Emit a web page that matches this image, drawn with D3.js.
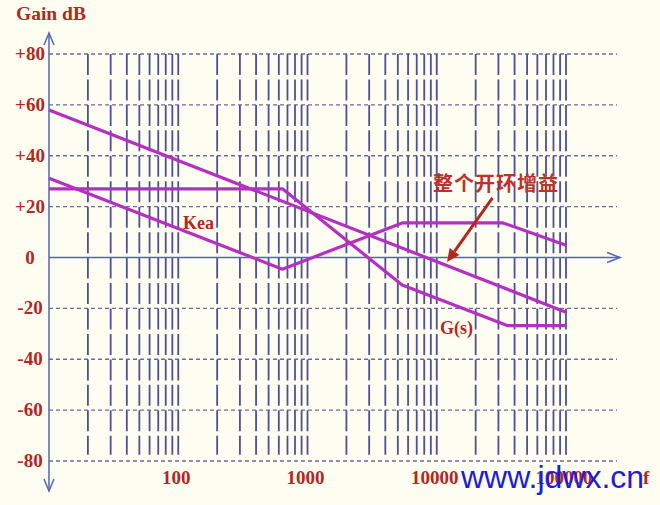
<!DOCTYPE html>
<html>
<head>
<meta charset="utf-8">
<script src="https://cdn.jsdelivr.net/npm/d3@7"></script>
<style>
  html, body { margin: 0; padding: 0; background: #fdfdf2; }
  svg { display: block; }
</style>
</head>
<body>
<svg id="chart" width="660" height="505"></svg>
<script>
// ---- data ----
const yTickValues = [80, 60, 40, 20, 0, -20, -40, -60, -80];
const yTickLabels = ["+80", "+60", "+40", "+20", "0", "-20", "-40", "-60", "-80"];
const xTickValues = [100, 1000, 10000, 100000];
const xTickLabels = ["100", "1000", "10000", "100000"];
const decades = [10, 100, 1000, 10000];
const gridMultipliers = [2, 3, 4, 5, 6, 7, 8, 9, 10];

const freqTotal = [10, 100000];
const gainTotal = [58, -21.5];
const freqG = [10, 640, 5400, 35500, 100000];
const gainG = [27, 27, -10.8, -26.8, -26.8];
const freqKea = [10, 640, 5400, 32600, 100000];
const gainKea = [31.2, -4.6, 13.6, 13.6, 4.8];

const arrowFrom = [27000, 23.4];
const arrowTo = [12000, -1.8];

// ---- setup ----
const svg = d3.select("#chart");
const x = d3.scaleLog().domain([10, 100000]).range([49, 566]);
const y = d3.scaleLinear().domain([-80, 80]).range([461, 54]);

const gridBlue = "#4f4f98";
const axisBlue = "#5566b4";
const labelRed = "#b3271f";
const curveCol = "#b52fc2";

svg.append("rect").attr("width", 660).attr("height", 505).attr("fill", "#fdfdf2");

// horizontal dashed grid
const hVals = yTickValues.filter(v => v !== 0);
svg.append("g").selectAll("line").data(hVals).join("line")
  .attr("x1", x(10)).attr("x2", 617)
  .attr("y1", d => y(d)).attr("y2", d => y(d))
  .attr("stroke", "#6a6aa0").attr("stroke-width", 1.3)
  .attr("stroke-dasharray", "4,3");

// vertical dashed grid
const vVals = [];
decades.forEach(dc => gridMultipliers.forEach(k => vVals.push(dc * k)));
svg.append("g").selectAll("line").data(vVals).join("line")
  .attr("x1", d => x(d)).attr("x2", d => x(d))
  .attr("y1", y(80)).attr("y2", y(-77.5))
  .attr("stroke", gridBlue).attr("stroke-width", 1.8)
  .attr("stroke-dasharray", "21,4.45");

// axes
const ax = svg.append("g").attr("stroke", axisBlue).attr("stroke-width", 1.5).attr("fill", "none");
ax.append("line").attr("x1", x(10)).attr("x2", 620).attr("y1", y(0)).attr("y2", y(0));
ax.append("path").attr("d", `M${607},${y(0)-5}L${620},${y(0)}L${607},${y(0)+5}`);
ax.append("line").attr("x1", x(10)).attr("x2", x(10)).attr("y1", 33).attr("y2", 491);
ax.append("path").attr("d", `M${x(10)-5},${45}L${x(10)},${33}L${x(10)+5},${45}`);
ax.append("path").attr("d", `M${x(10)-5},${479}L${x(10)},${491}L${x(10)+5},${479}`);

// curves
const line = d3.line().x(d => x(d[0])).y(d => y(d[1]));
const series = [
  d3.zip(freqTotal, gainTotal),
  d3.zip(freqG, gainG),
  d3.zip(freqKea, gainKea)
];
svg.append("g").selectAll("path").data(series).join("path")
  .attr("d", line)
  .attr("fill", "none")
  .attr("stroke", curveCol)
  .attr("stroke-width", 3.2)
  .attr("stroke-linejoin", "round");

// y labels
const serif = "'Liberation Serif', 'Times New Roman', serif";
svg.append("g").selectAll("text").data(yTickValues).join("text")
  .attr("x", 30).attr("y", d => y(d) + 6)
  .attr("text-anchor", "middle")
  .attr("font-family", serif).attr("font-weight", "bold").attr("font-size", 19)
  .attr("fill", labelRed)
  .text((d, i) => yTickLabels[i]);

// x labels
svg.append("g").selectAll("text").data(xTickValues).join("text")
  .attr("x", d => x(d) - 2).attr("y", 484)
  .attr("text-anchor", "middle")
  .attr("font-family", serif).attr("font-weight", "bold").attr("font-size", 19)
  .attr("fill", labelRed)
  .text((d, i) => xTickLabels[i]);

svg.append("text").attr("x", 643).attr("y", 484)
  .attr("font-family", serif).attr("font-weight", "bold").attr("font-size", 19)
  .attr("fill", labelRed).text("f");

// title
svg.append("text").attr("x", 16).attr("y", 20)
  .attr("font-family", serif).attr("font-weight", "bold").attr("font-size", 19.5)
  .attr("fill", labelRed).text("Gain dB");

// curve labels
svg.append("text").attr("x", 183).attr("y", 229)
  .attr("font-family", serif).attr("font-weight", "bold").attr("font-size", 18)
  .attr("fill", labelRed).text("Kea");
svg.append("text").attr("x", 440).attr("y", 334)
  .attr("font-family", serif).attr("font-weight", "bold").attr("font-size", 18)
  .attr("fill", labelRed).text("G(s)");
svg.append("text").attr("x", 433).attr("y", 191)
  .attr("font-family", "'Noto Sans CJK SC', sans-serif").attr("font-weight", "bold").attr("font-size", 20)
  .attr("letter-spacing", 1)
  .attr("fill", "#c0302a").text("整个开环增益");

// annotation arrow
const ax1 = x(arrowFrom[0]), ay1 = y(arrowFrom[1]);
const ax2 = x(arrowTo[0]), ay2 = y(arrowTo[1]);
const ang = Math.atan2(ay2 - ay1, ax2 - ax1);
const hl = 13, hw = 6;
const bx = ax2 - hl * Math.cos(ang), by = ay2 - hl * Math.sin(ang);
svg.append("line").attr("x1", ax1).attr("y1", ay1).attr("x2", bx).attr("y2", by)
  .attr("stroke", labelRed).attr("stroke-width", 3);
svg.append("path")
  .attr("d", `M${ax2},${ay2}L${bx + hw * Math.sin(ang)},${by - hw * Math.cos(ang)}L${bx - hw * Math.sin(ang)},${by + hw * Math.cos(ang)}Z`)
  .attr("fill", labelRed);

// watermark
svg.append("text").attr("x", 461).attr("y", 488)
  .attr("font-family", "'Liberation Sans', Arial, sans-serif").attr("font-size", 32)
  .attr("fill", "#1c1ce0").text("www.jdwx.cn");
</script>
</body>
</html>
